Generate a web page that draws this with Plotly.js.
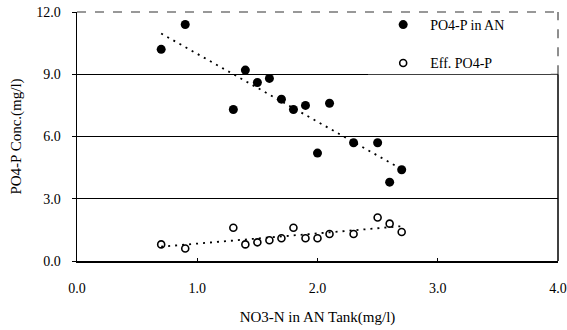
<!DOCTYPE html>
<html>
<head>
<meta charset="utf-8">
<script src="https://cdn.plot.ly/plotly-3.0.1.min.js"></script>
<style>html,body{margin:0;padding:0;background:#fff;}#chart{width:567px;height:330px;}</style>
</head>
<body>
<div id="chart"></div>
<script>
// Data
const no3N = [0.7, 0.9, 1.3, 1.4, 1.5, 1.6, 1.7, 1.8, 1.9, 2.0, 2.1, 2.3, 2.5, 2.6, 2.7];
const po4InAN = [10.2, 11.4, 7.3, 9.2, 8.6, 8.8, 7.8, 7.3, 7.5, 5.2, 7.6, 5.7, 5.7, 3.8, 4.4];
const effPo4 = [0.8, 0.6, 1.6, 0.8, 0.9, 1.0, 1.1, 1.6, 1.1, 1.1, 1.3, 1.3, 2.1, 1.8, 1.4];
const seriesNames = ['PO4-P in AN', 'Eff. PO4-P'];
const xTicks = [0, 1, 2, 3, 4];
const xTickText = ['0.0', '1.0', '2.0', '3.0', '4.0'];
const yTicks = [0, 3, 6, 9, 12];
const yTickText = ['0.0', '3.0', '6.0', '9.0', '12.0'];

// Least squares linear trendline (as in the spreadsheet chart)
function trend(xs, ys) {
  const n = xs.length;
  const mx = xs.reduce((a, b) => a + b, 0) / n;
  const my = ys.reduce((a, b) => a + b, 0) / n;
  let sxy = 0, sxx = 0;
  for (let i = 0; i < n; i++) { sxy += (xs[i] - mx) * (ys[i] - my); sxx += (xs[i] - mx) ** 2; }
  const b = sxy / sxx, a = my - b * mx;
  const x0 = Math.min(...xs), x1 = Math.max(...xs);
  return { x: [x0, x1], y: [a + b * x0, a + b * x1] };
}
const t1 = trend(no3N, po4InAN);
const t2 = trend(no3N, effPo4);

const font = { family: '"Liberation Serif", "Times New Roman", serif', size: 14, color: '#000' };
const titleFont = { family: '"Liberation Serif", "Times New Roman", serif', size: 15, color: '#000' };

const traces = [
  { x: t1.x, y: t1.y, mode: 'lines', line: { color: '#000', width: 1.8, dash: '2px,5px' }, showlegend: false, hoverinfo: 'skip' },
  { x: t2.x, y: t2.y, mode: 'lines', line: { color: '#000', width: 1.8, dash: '2px,5px' }, showlegend: false, hoverinfo: 'skip' },
  { x: no3N, y: po4InAN, name: seriesNames[0], mode: 'markers', type: 'scatter',
    marker: { symbol: 'circle', size: 9, color: '#000' }, legend: 'legend' },
  { x: no3N, y: effPo4, name: seriesNames[1], mode: 'markers', type: 'scatter',
    marker: { symbol: 'circle-open', size: 7, color: '#000', line: { width: 1.6, color: '#000' } }, legend: 'legend2' }
];

const layout = {
  width: 567, height: 330,
  margin: { l: 77, r: 9, t: 12, b: 69 },
  paper_bgcolor: '#fff', plot_bgcolor: '#fff',
  font: font,
  showlegend: true,
  xaxis: {
    range: [0, 4], tickvals: xTicks, ticktext: xTickText,
    showgrid: false, zeroline: false,
    showline: true, linecolor: '#000', linewidth: 1.5,
    ticks: 'inside', ticklen: 3, tickcolor: '#000',
    ticklabelstandoff: 14,
    tickfont: font,
    title: { text: 'NO3-N in AN Tank(mg/l)', font: titleFont, standoff: 16 }
  },
  yaxis: {
    range: [0, 12], tickvals: yTicks, ticktext: yTickText,
    showgrid: true, gridcolor: '#000', gridwidth: 1.2, zeroline: false,
    showline: true, linecolor: '#000', linewidth: 1.5,
    ticks: 'outside', ticklen: 4, tickcolor: '#000',
    ticklabelstandoff: 8,
    tickfont: font,
    title: { text: 'PO4-P Conc.(mg/l)', font: titleFont, standoff: 11 }
  },
  legend: { x: 0.622, y: 1.012, xanchor: 'left', yanchor: 'top', itemwidth: 44, bgcolor: 'rgba(0,0,0,0)', font: font, borderwidth: 0 },
  legend2: { x: 0.622, y: 0.858, xanchor: 'left', yanchor: 'top', itemwidth: 44, bgcolor: 'rgba(0,0,0,0)', font: font, borderwidth: 0 },
  shapes: [
    // white area behind legend, hiding gridlines
    { type: 'rect', xref: 'paper', yref: 'y', x0: 0.605, x1: 1.01, y0: 9, y1: 12.3, fillcolor: '#fff', line: { width: 0 }, layer: 'above' },
    // hide solid top gridline, then draw dashed top border
    { type: 'line', xref: 'paper', yref: 'paper', x0: 0, x1: 1, y0: 1, y1: 1, line: { color: '#fff', width: 3 }, layer: 'above' },
    { type: 'line', xref: 'paper', yref: 'paper', x0: 0, x1: 1, y0: 1, y1: 1, line: { color: '#333', width: 1.2, dash: 'dash' }, layer: 'above' },
    // short legend edge near the right border, and right border
    { type: 'line', xref: 'paper', yref: 'y', x0: 0.985, x1: 1, y0: 9, y1: 9, line: { color: '#555', width: 1 }, layer: 'above' },
    { type: 'line', xref: 'paper', yref: 'y', x0: 1, x1: 1, y0: 9, y1: 12, line: { color: '#444', width: 1.2, dash: 'dash' }, layer: 'above' },
    { type: 'line', xref: 'paper', yref: 'y', x0: 1, x1: 1, y0: 0, y1: 9, line: { color: '#000', width: 1.5 }, layer: 'above' }
  ]
};

Plotly.newPlot('chart', traces, layout, { displayModeBar: false, staticPlot: true });
</script>
</body>
</html>
